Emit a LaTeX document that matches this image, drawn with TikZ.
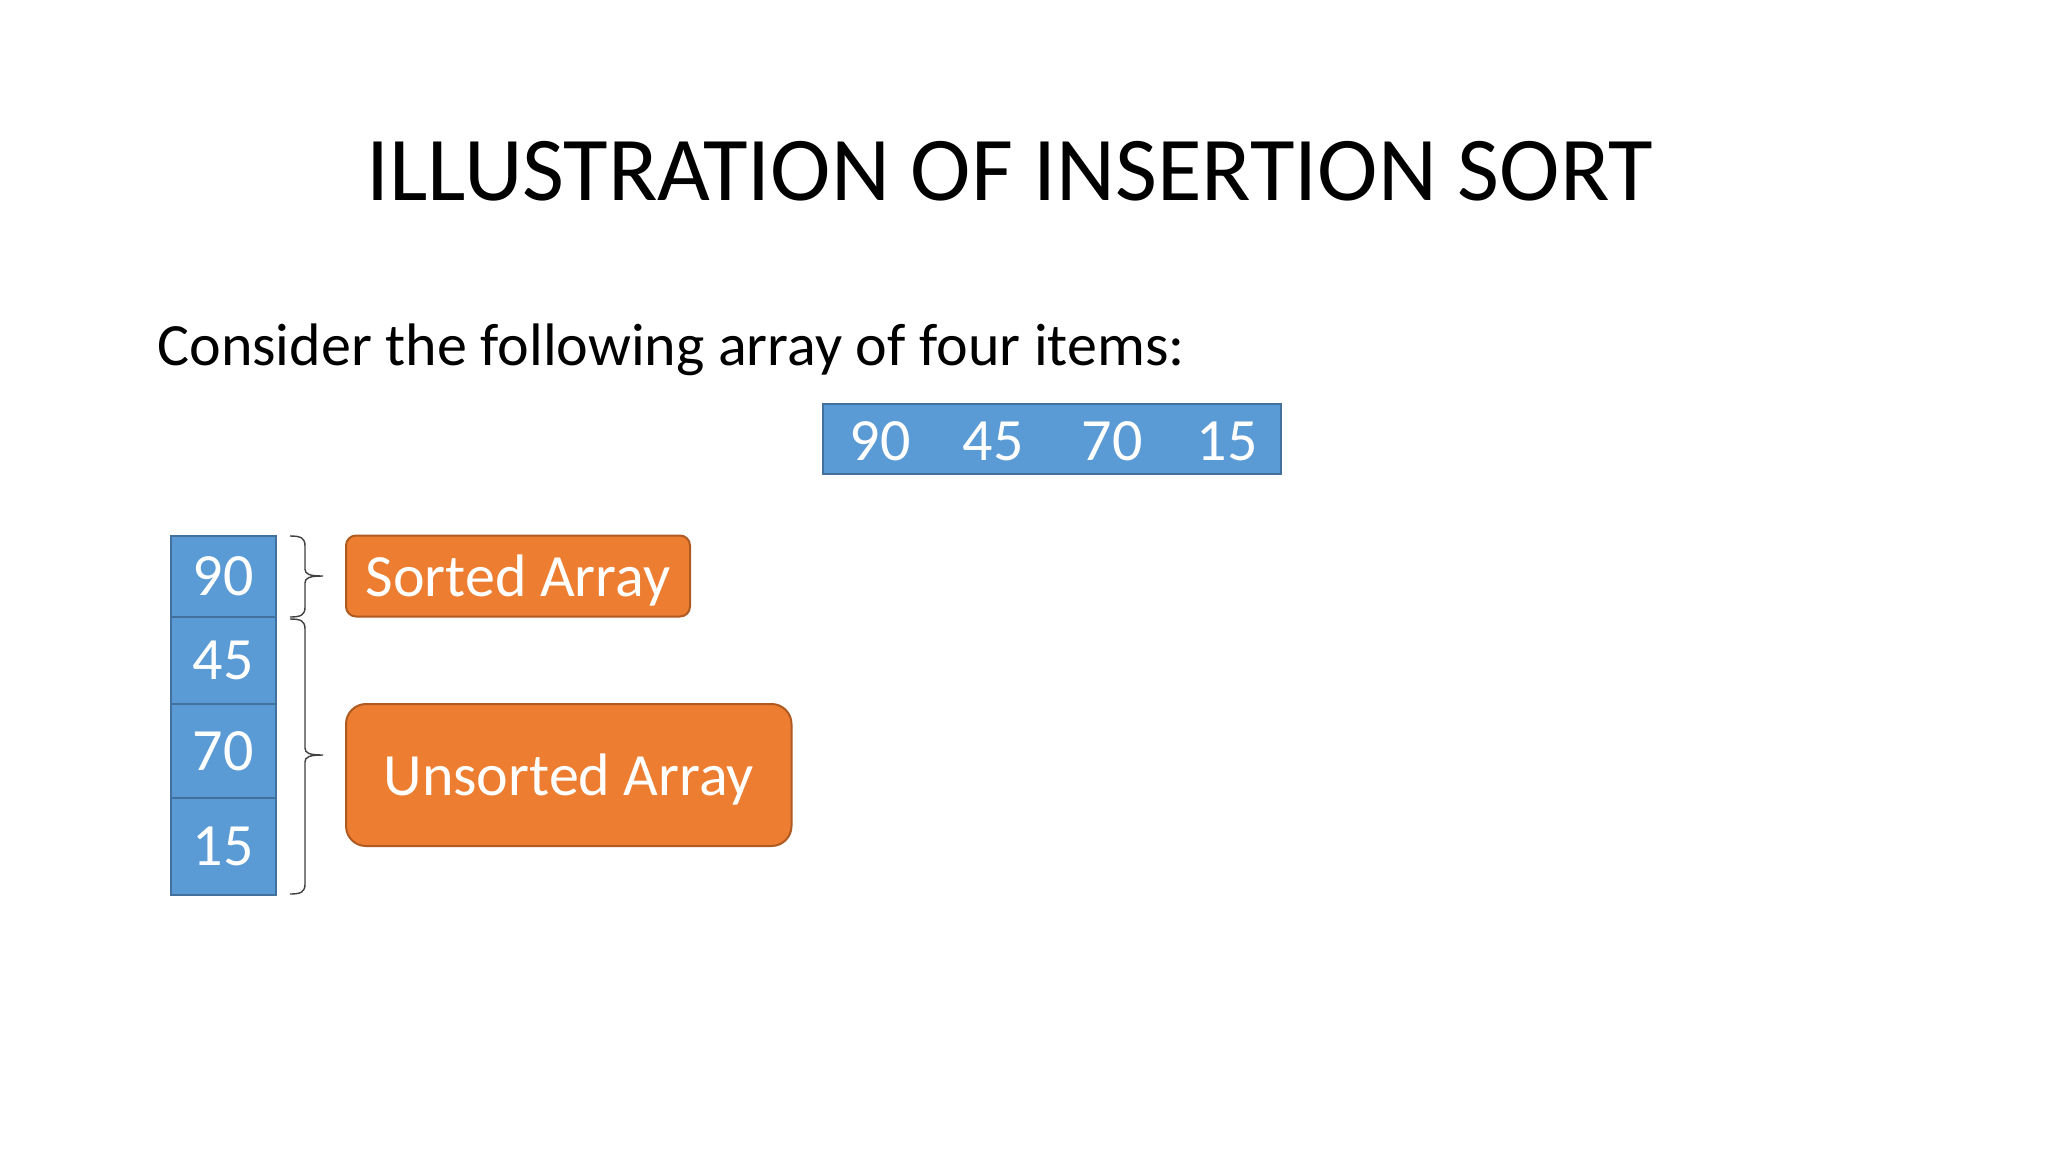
\documentclass[tikz,border=0pt]{standalone}
\usepackage{fontspec}
\setmainfont{Carlito}
\definecolor{cellblue}{HTML}{5B9BD5}
\definecolor{cellline}{HTML}{41719C}
\definecolor{boxorange}{HTML}{ED7D31}
\definecolor{orangeline}{HTML}{AE5A21}
\definecolor{bracegray}{HTML}{404040}
\begin{document}
\begin{tikzpicture}[x=0.5pt,y=-0.5pt,
  cell/.style={draw=cellline,fill=cellblue,line width=1pt,inner sep=0pt,
    text=white,font=\fontsize{30}{36}\selectfont,minimum width=52.3pt},
  numtext/.style={text=white,font=\fontsize{30}{36}\selectfont,inner sep=0pt},
  tag/.style={draw=orangeline,fill=boxorange,line width=1pt,inner sep=0pt,
    text=white,font=\fontsize{30}{36}\selectfont,text depth=0pt},
  bracestyle/.style={draw=bracegray,line width=0.7pt}]
\useasboundingbox (0,0) rectangle (2048,1152);
\fill[white] (0,0) rectangle (2048,1152);

\node[anchor=base west,inner sep=0pt,font=\fontsize{45.6}{54}\selectfont] (title) at (366,200) {ILLUSTRATION OF INSERTION SORT};
\node[anchor=base west,inner sep=0pt,font=\fontsize{30}{36}\selectfont] (intro) at (157,365) {Consider the following array of four items:};

% top array
\node[draw=cellline,fill=cellblue,line width=1pt,inner sep=0pt,minimum width=229pt,minimum height=35.25pt] (arr) at (1052,438.75) {};
\node[numtext] (a1) at (880,441) {90};
\node[numtext] (a2) at (993,441) {45};
\node[numtext] (a3) at (1112,441) {70};
\node[numtext] (a4) at (1227,441) {15};

% column
\node[cell,minimum height=40.5pt] (c1) at (223.3,576) {90};
\node[cell,minimum height=43.75pt] (c2) at (223.3,660.25) {45};
\node[cell,minimum height=47pt] (c3) at (223.3,751) {70};
\node[cell,minimum height=48.3pt] (c4) at (223.3,846.3) {15};

% braces
\coordinate (b1t) at (290,536);
\coordinate (b1b) at (290,617);
\coordinate (b2t) at (290,619);
\coordinate (b2b) at (290,894);
\draw[bracestyle] (b1t) .. controls (301,536) and (305,538) .. (305,546)
  -- (305,569) .. controls (305,574) and (309,576) .. (323,576)
  .. controls (309,576) and (305,578) .. (305,583)
  -- (305,607) .. controls (305,615) and (301,617) .. (b1b);
\draw[bracestyle] (b2t) .. controls (301,619) and (305,621) .. (305,629)
  -- (305,748) .. controls (305,753) and (309,755) .. (323,755)
  .. controls (309,755) and (305,757) .. (305,762)
  -- (305,884) .. controls (305,892) and (301,894) .. (b2b);

% labels
\node[tag,rounded corners=5pt,minimum width=172pt,minimum height=40.5pt] (sorted) at (518,576) {Sorted Array};
\node[tag,rounded corners=10pt,minimum width=222.75pt,minimum height=71pt] (unsorted) at (568.75,775) {Unsorted Array};
\end{tikzpicture}
\end{document}
